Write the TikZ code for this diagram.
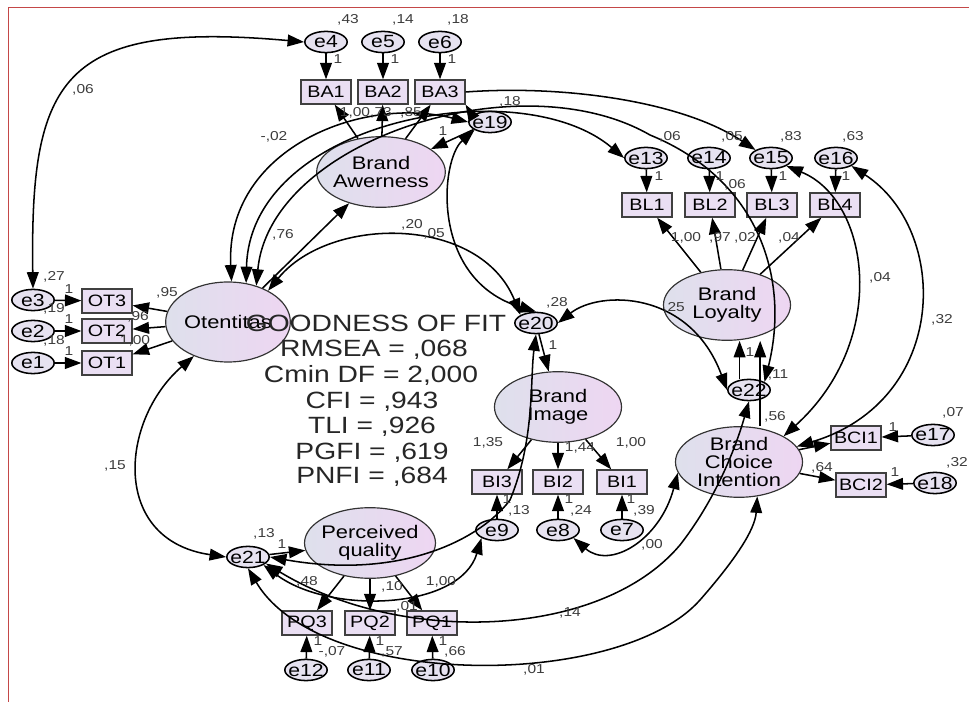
\documentclass[tikz,border=0pt]{standalone}
\usepackage{fontspec}
\setmainfont{Liberation Sans}[FakeStretch=1.2]
\usetikzlibrary{arrows.meta,shapes.geometric}
\definecolor{latleft}{RGB}{222,224,236}
\definecolor{latright}{RGB}{238,214,242}
\definecolor{boxfill}{RGB}{234,223,243}
\definecolor{errfill}{RGB}{230,226,240}
\definecolor{framered}{RGB}{196,72,72}
\definecolor{labgray}{RGB}{60,60,60}

\begin{document}
\begin{tikzpicture}[x=0.85pt, y=-0.85pt,
  >={Triangle[length=14pt,width=10pt]},
  lat/.style={ellipse, draw=black!80, line width=1pt, left color=latleft, right color=latright,
    minimum width=108pt, minimum height=60pt, inner sep=-2pt, align=center,
    font=\fontsize{15.5}{15.5}\selectfont},
  obs/.style={rectangle, draw=black!75, line width=1pt, fill=boxfill,
    minimum width=42.5pt, minimum height=20.5pt, inner sep=1pt, font=\fontsize{14}{14}\selectfont},
  err/.style={ellipse, draw=black, line width=1.3pt, fill=errfill,
    minimum width=36pt, minimum height=18pt, inner sep=-4pt, font=\fontsize{15}{15}\selectfont},
  lab/.style={font=\fontsize{11}{11}\selectfont, inner sep=0pt, text=labgray},
  gof/.style={font=\fontsize{20}{20}\selectfont, anchor=base, inner sep=0pt, text=black!85},
  pth/.style={->, line width=1.3pt},
  cov/.style={<->, line width=1.3pt}]
\useasboundingbox (0,0) rectangle (969,702);
\draw[framered, line width=0.8pt] (8,702) -- (8,7) -- (969,7);

% brand awerness
\node[err] (e4) at (326,42) {e4};
\node[err] (e5) at (383,42) {e5};
\node[err] (e6) at (440,42) {e6};
\node[obs] (ba1) at (326,92) {BA1};
\node[obs] (ba2) at (383,92) {BA2};
\node[obs] (ba3) at (440,92) {BA3};
\node[lat] (aw) at (381,172) {Brand\\Awerness};
\node[err] (e19) at (490,122) {e19};

% otentitas
\node[lat, minimum width=106pt, minimum height=68pt] (ot) at (228,322) {Otentitas};
\node[obs] (ot3) at (107,301) {OT3};
\node[obs] (ot2) at (107,331) {OT2};
\node[obs] (ot1) at (107,363) {OT1};
\node[err] (e3) at (33,300) {e3};
\node[err] (e2) at (33,331) {e2};
\node[err] (e1) at (33,363) {e1};

% brand loyalty
\node[err] (e13) at (646,158) {e13};
\node[err] (e14) at (709,158) {e14};
\node[err] (e15) at (771,158) {e15};
\node[err] (e16) at (836,158) {e16};
\node[obs] (bl1) at (647,205) {BL1};
\node[obs] (bl2) at (710,205) {BL2};
\node[obs] (bl3) at (772,205) {BL3};
\node[obs] (bl4) at (835,205) {BL4};
\node[lat] (bl) at (727,305) {Brand\\Loyalty};
\node[err] (e22) at (749,390) {e22};

% brand image
\node[err] (e20) at (536,323) {e20};
\node[lat] (bi) at (558,407) {Brand\\Image};
\node[obs] (bi3) at (497,482) {BI3};
\node[obs] (bi2) at (558,482) {BI2};
\node[obs] (bi1) at (622,482) {BI1};
\node[err] (e9) at (497,530) {e9};
\node[err] (e8) at (558,530) {e8};
\node[err] (e7) at (622,530) {e7};

% brand choice intention
\node[lat] (bci) at (739,462) {Brand\\Choice\\Intention};
\node[obs] (bci1) at (856,438) {BCI1};
\node[obs] (bci2) at (861,485) {BCI2};
\node[err] (e17) at (933,435) {e17};
\node[err] (e18) at (935,483) {e18};

% perceived quality
\node[lat] (pq) at (370,543) {Perceived\\quality};
\node[err] (e21) at (248,557) {e21};
\node[obs] (pq3) at (307,623) {PQ3};
\node[obs] (pq2) at (370,623) {PQ2};
\node[obs] (pq1) at (432,623) {PQ1};
\node[err] (e12) at (306,670) {e12};
\node[err] (e11) at (369,670) {e11};
\node[err] (e10) at (433,670) {e10};

% measurement paths
\foreach \e/\b in {e4/ba1,e5/ba2,e6/ba3,e3/ot3,e2/ot2,e1/ot1,e13/bl1,e14/bl2,e15/bl3,e16/bl4,
  e9/bi3,e8/bi2,e7/bi1,e17/bci1,e18/bci2,e12/pq3,e11/pq2,e10/pq1}
  \draw[pth] (\e) -- (\b);
\foreach \l/\b in {aw/ba1,aw/ba2,aw/ba3,ot/ot3,ot/ot2,ot/ot1,bl/bl1,bl/bl2,bl/bl3,bl/bl4,
  bi/bi3,bi/bi2,bi/bi1,bci/bci1,bci/bci2,pq/pq3,pq/pq2,pq/pq1}
  \draw[pth] (\l) -- (\b);

% structural paths
\draw[pth] (ot) -- (aw);
\draw[pth] (e19) -- (aw);
\draw[pth] (e19.160) -- (ba3.south east);
\draw[pth] (e20) -- (bi);
\draw[pth] (e21) -- (pq);
\draw[pth] ([xshift=-8pt]e22.north) -- ([xshift=-8pt]e22.north |- bl.south);
\draw[pth] ([xshift=18pt]bci.north) -- ([xshift=18pt]bci.north |- bl.south);

% covariances
\draw[cov] (e4.west) .. controls (60,20) and (30,80) .. (e3.north);
\draw[cov] (ot.85) .. controls (225,150) and (360,95) .. (e19.west);
\draw[cov] (ot.65) .. controls (250,120) and (520,70) .. (e13.west);
\draw[cov] (ot.52) .. controls (270,140) and (520,60) .. (650,135)
  .. controls (760,180) and (790,280) .. (e22.north east);
\draw[pth] (ba3.east) .. controls (560,85) and (680,100) .. (e15.north west);
\draw[cov] (e19.south west) .. controls (440,160) and (430,280) .. (e20.north);
\draw[cov] (ot.38) .. controls (330,215) and (480,215) .. (e20.north west);
\draw[cov] (e20.east) .. controls (600,290) and (690,290) .. (e22.west);
\draw[cov] (e21.east) .. controls (400,580) and (480,540) .. (510,500)
  .. controls (535,440) and (530,380) .. (e20.south);
\draw[cov] (e21.south east) .. controls (330,615) and (460,610) .. (e9.south west);
\draw[cov] (e21.-20) .. controls (400,645) and (600,640) .. (680,545)
  .. controls (715,500) and (735,450) .. (e22.south);
\draw[cov] (e21.south) .. controls (320,690) and (620,690) .. (700,600)
  .. controls (735,560) and (755,530) .. (bci.-62);
\draw[cov] (ot.225) .. controls (120,420) and (110,540) .. (e21.west);
\draw[cov] (e8.south east) .. controls (610,570) and (660,540) .. (bci.190);
\draw[cov] (e15.south east) .. controls (870,200) and (890,340) .. (bci.30);
\draw[cov] (e16.south east) .. controls (950,230) and (950,400) .. (bci.15);

% goodness of fit
\node[gof] (g1) at (376,332) {GOODNESS OF FIT};
\node[gof] (g2) at (374,357) {RMSEA = ,068};
\node[gof] (g3) at (371,383) {Cmin DF = 2,000};
\node[gof] (g4) at (372,409) {CFI = ,943};
\node[gof] (g5) at (372,434) {TLI = ,926};
\node[gof] (g6) at (372,460) {PGFI = ,619};
\node[gof] (g7) at (372,484) {PNFI = ,684};

% estimates
\node[lab] (v4) at (348,20) {,43};
\node[lab] (v5) at (403,20) {,14};
\node[lab] (v6) at (458,20) {,18};
\node[lab] (w4) at (338,59) {1};
\node[lab] (w5) at (395,59) {1};
\node[lab] (w6) at (452,59) {1};
\node[lab] (l1) at (355,113) {1,00};
\node[lab] (l2) at (381,113) {,73};
\node[lab] (l3) at (411,113) {,85};
\node[lab] (v19) at (510,102) {,18};
\node[lab] (w19) at (443,131) {1};
\node[lab] (c1) at (83,90) {,06};
\node[lab] (c2) at (274,137) {-,02};
\node[lab] (b1) at (283,235) {,76};
\node[lab] (c3) at (412,225) {,20};
\node[lab] (c4) at (434,234) {,05};
\node[lab] (v20) at (557,303) {,28};
\node[lab] (w20) at (553,345) {1};
\node[lab] (v3) at (54,277) {,27};
\node[lab] (w3) at (69,289) {1};
\node[lab] (v2) at (54,309) {,19};
\node[lab] (w2) at (69,319) {1};
\node[lab] (v1) at (54,341) {,18};
\node[lab] (w1) at (69,351) {1};
\node[lab] (l4) at (167,293) {,95};
\node[lab] (l5) at (138,317) {,96};
\node[lab] (l6) at (135,341) {1,00};
\node[lab] (v13) at (670,137) {,06};
\node[lab] (v14) at (732,137) {,05};
\node[lab] (v15) at (791,137) {,83};
\node[lab] (v16) at (853,137) {,63};
\node[lab] (w13) at (659,176) {1};
\node[lab] (w14) at (720,176) {1};
\node[lab] (w15) at (783,176) {1};
\node[lab] (w16) at (846,176) {1};
\node[lab] (c5) at (735,185) {,06};
\node[lab] (l7) at (686,238) {1,00};
\node[lab] (l8) at (720,238) {,97};
\node[lab] (l9) at (745,238) {,02};
\node[lab] (l10) at (789,238) {,04};
\node[lab] (c6) at (674,308) {,25};
\node[lab] (w22) at (750,352) {1};
\node[lab] (c7) at (778,375) {,11};
\node[lab] (b2) at (775,417) {,56};
\node[lab] (c8) at (880,278) {,04};
\node[lab] (c9) at (942,320) {,32};
\node[lab] (w17) at (893,427) {1};
\node[lab] (v17) at (953,413) {,07};
\node[lab] (w18) at (895,472) {1};
\node[lab] (v18) at (957,463) {,32};
\node[lab] (l11) at (822,468) {,64};
\node[lab] (l12) at (488,443) {1,35};
\node[lab] (l13) at (580,448) {1,44};
\node[lab] (l14) at (631,443) {1,00};
\node[lab] (w9) at (507,499) {1};
\node[lab] (v9) at (519,511) {,13};
\node[lab] (w8) at (569,499) {1};
\node[lab] (v8) at (581,511) {,24};
\node[lab] (w7) at (631,499) {1};
\node[lab] (v7) at (644,511) {,39};
\node[lab] (c10) at (652,545) {,00};
\node[lab] (v21) at (264,534) {,13};
\node[lab] (w21) at (282,544) {1};
\node[lab] (l15) at (307,582) {,48};
\node[lab] (l16) at (392,587) {,10};
\node[lab] (l17) at (441,582) {1,00};
\node[lab] (c11) at (407,607) {,01};
\node[lab] (c12) at (570,613) {,14};
\node[lab] (c13) at (534,670) {,01};
\node[lab] (c14) at (115,466) {,15};
\node[lab] (w12) at (318,641) {1};
\node[lab] (v12) at (332,652) {-,07};
\node[lab] (w11) at (380,641) {1};
\node[lab] (v11) at (392,652) {,57};
\node[lab] (w10) at (443,641) {1};
\node[lab] (v10) at (455,652) {,66};
\end{tikzpicture}
\end{document}
